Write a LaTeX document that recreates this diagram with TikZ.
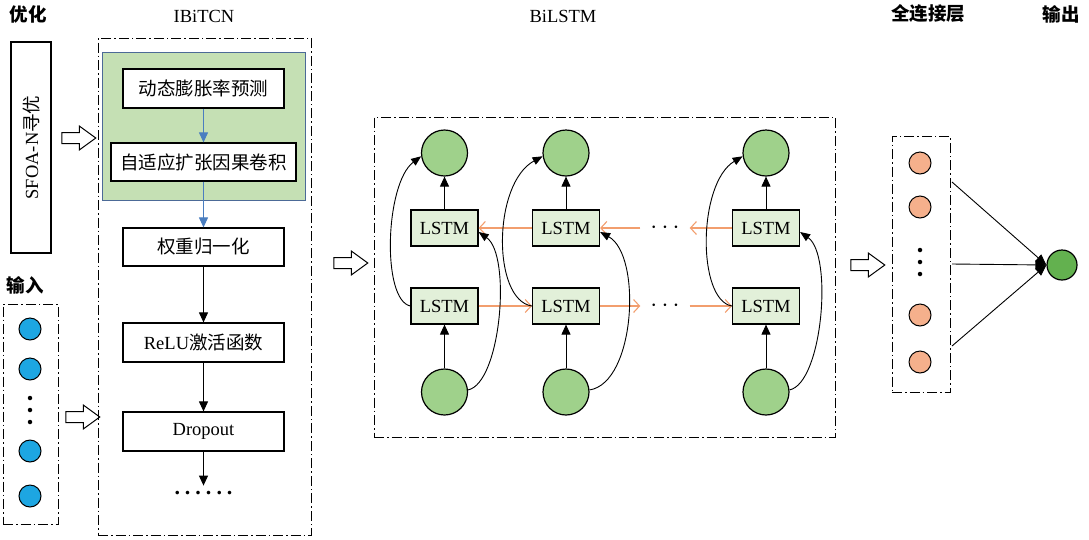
\documentclass[tikz,border=0pt]{standalone}
\usepackage{fontspec}
\setmainfont{Liberation Serif}
\newfontfamily\cjk{Noto Sans CJK SC}
\usetikzlibrary{arrows.meta,shapes.arrows}

\definecolor{inblue}{HTML}{1DA6E2}
\definecolor{lgreen}{HTML}{C5E0B4}
\definecolor{cgreen}{HTML}{9FD18B}
\definecolor{boxgreen}{HTML}{E2F0D9}
\definecolor{orng}{HTML}{F29E6E}
\definecolor{ofill}{HTML}{F5B08C}
\definecolor{outgreen}{HTML}{63B14F}
\definecolor{arblue}{HTML}{4A7EC0}
\definecolor{frameblue}{HTML}{4C6A97}

\newcommand\fsz{\fontsize{18.5}{20}\selectfont}

\tikzset{
  frame/.style={draw, line width=1pt, dash pattern=on 10pt off 3pt on 1.5pt off 3pt,
                inner sep=0pt},
  blk/.style={draw, line width=1.2pt, fill=white, minimum height=39pt,
              inner sep=0pt, font=\fsz},
  lstm/.style={draw, line width=1.2pt, fill=boxgreen, minimum width=67pt,
               minimum height=36pt, inner sep=0pt, font=\fsz},
  gcirc/.style={circle, draw, line width=1.2pt, fill=cgreen, minimum size=46pt, inner sep=0pt},
  incirc/.style={circle, draw, line width=1pt, fill=inblue, minimum size=22pt, inner sep=0pt},
  ocirc/.style={circle, draw, line width=1pt, fill=ofill, minimum size=22pt, inner sep=0pt},
  dotnode/.style={circle, fill=black, minimum size=4.5pt, inner sep=0pt},
  hollow/.style={single arrow, draw, line width=1pt, fill=white, minimum height=34pt,
                 inner xsep=0pt, inner ysep=5pt, single arrow head extend=6.5pt,
                 single arrow tip angle=72},
  title/.style={font=\fsz},
  hdots/.style={font=\fontsize{24}{24}\selectfont, inner xsep=10pt, inner ysep=0pt},
  bar/.style={line width=1pt, -{Triangle[length=10pt,width=9pt]}},
  blu/.style={draw=arblue, line width=1pt, -{Triangle[length=10pt,width=9pt]}, arblue},
  oarr/.style={draw=orng, line width=1.1pt, -{Straight Barb[length=6pt,width=13pt]}},
  carr/.style={line width=0.9pt, -{Triangle[length=10pt,width=8pt]}},
  fcl/.style={line width=0.9pt, -{Triangle[length=11pt,width=9pt]}},
}

\begin{document}
\begin{tikzpicture}[x=1pt,y=-1pt]
\useasboundingbox (0,0) rectangle (1089,539);

% section titles
\node[title] (t1) at (28,14) {\cjk\bfseries 优化};
\node[title] (t2) at (204,16) {IBiTCN};
\node[title] (t3) at (563,16) {BiLSTM};
\node[title] (t4) at (928,14) {\cjk\bfseries 全连接层};
\node[title] (t5) at (1061,14) {\cjk\bfseries 输出};
\node[title] (t6) at (25,285) {\cjk\bfseries 输入};

% optimiser
\node[draw, line width=1.2pt, rotate=90, minimum width=211pt, minimum height=40pt,
      inner sep=0pt, font=\fsz] (sfoa) at (31,147.5) {SFOA-N{\cjk 寻优}};
\node[hollow] (h1) at (75,138) {};

% input column
\node[frame, minimum width=55pt, minimum height=220pt] (inbox) at (30.5,414) {};
\node[incirc] (i1) at (30,329) {};
\node[incirc] (i2) at (30,369) {};
\node[dotnode] (id1) at (30,398) {};
\node[dotnode] (id2) at (30,410) {};
\node[dotnode] (id3) at (30,422) {};
\node[incirc] (i3) at (30,451) {};
\node[incirc] (i4) at (30,496) {};
\node[hollow] (h2) at (79,417) {};

% IBiTCN block
\node[frame, minimum width=213pt, minimum height=497pt] (tcn) at (204.5,286.5) {};
\node[draw=frameblue, fill=lgreen, line width=1pt, minimum width=203pt,
      minimum height=148pt, inner sep=0pt] (gbox) at (203.5,126) {};
\node[blk, minimum width=161pt] (dyn) at (203.5,88.5) {\cjk 动态膨胀率预测};
\node[blk, minimum width=185pt, minimum height=38pt] (adc) at (203.5,162) {\cjk 自适应扩张因果卷积};
\node[blk, minimum width=161pt, minimum height=38pt] (wn) at (203.5,247) {\cjk 权重归一化};
\node[blk, minimum width=161pt] (relu) at (203.5,342.5) {ReLU{\cjk 激活函数}};
\node[blk, minimum width=161pt] (drop) at (203.5,431.5) {Dropout};
\node[font=\fontsize{22}{22}\selectfont\bfseries, inner sep=0pt] (more) at (203.5,493)
  {.\hspace{5pt}.\hspace{5pt}.\hspace{5pt}.\hspace{5pt}.\hspace{5pt}.};
\draw[blu] (dyn) -- (adc);
\draw[blu] (adc) -- (wn);
\draw[bar] (wn) -- (relu);
\draw[bar] (relu) -- (drop);
\draw[bar] (drop.south) -- ++(0,34);

\node[hollow] (h3) at (347,263) {};

% BiLSTM block
\node[frame, minimum width=461pt, minimum height=320pt] (bil) at (604.5,277) {};
\foreach \c/\x in {1/444.5, 2/566, 3/766} {
  \node[gcirc] (C\c t) at (\x,153) {};
  \node[lstm] (L\c t) at (\x,228) {LSTM};
  \node[lstm] (L\c b) at (\x,306) {LSTM};
  \node[gcirc] (C\c b) at (\x,392) {};
  \draw[bar] (L\c t) -- (C\c t);
  \draw[bar] (C\c b) -- (L\c b);
}
\node[hdots] (dt) at (665,228) {$\cdots$};
\node[hdots] (db) at (665,306) {$\cdots$};

% forward and backward recurrences
\draw[oarr] (L2t.west) -- (L1t.east);
\draw[oarr] (dt.west) -- (L2t.east);
\draw[oarr] (L3t.west) -- (dt.east);
\draw[oarr] (L1b.east) -- (L2b.west);
\draw[oarr] (L2b.east) -- (db.west);
\draw[oarr] (db.east) -- (L3b.west);

% skip connections
\draw[carr] (L1b.west) .. controls +(-29,-6) and +(-36,27) .. (C1t.188);
\draw[carr] (L2b.west) .. controls +(-40,-6) and +(-50,27) .. (C2t.188);
\draw[carr] (L3b.west) .. controls +(-35,-6) and +(-45,27) .. (C3t.188);
\draw[carr] (C1b.5) .. controls +(33,-7) and +(33,23) .. ([yshift=-4pt]L1t.east);
\draw[carr] (C2b.5) .. controls +(46,-7) and +(42,23) .. ([yshift=-4pt]L2t.east);
\draw[carr] (C3b.5) .. controls +(33,-7) and +(33,23) .. ([yshift=-4pt]L3t.east);

\node[hollow] (h4) at (864,265) {};

% fully connected layer
\node[frame, minimum width=58pt, minimum height=256pt] (fc) at (921,264) {};
\node[ocirc] (o1) at (920,163) {};
\node[ocirc] (o2) at (920,207) {};
\node[dotnode] (od1) at (920,250) {};
\node[dotnode] (od2) at (920,262) {};
\node[dotnode] (od3) at (920,274) {};
\node[ocirc] (o3) at (920,315) {};
\node[ocirc] (o4) at (920,362) {};

% output
\node[circle, draw, line width=1.2pt, fill=outgreen, minimum size=30pt, inner sep=0pt] (out) at (1062,265) {};
\coordinate (f1) at (952,182);
\coordinate (f2) at (952,264);
\coordinate (f3) at (952,346);
\draw[fcl] (f1) -- (out.west);
\draw[fcl] (f2) -- (out.west);
\draw[fcl] (f3) -- (out.west);
\end{tikzpicture}
\end{document}
